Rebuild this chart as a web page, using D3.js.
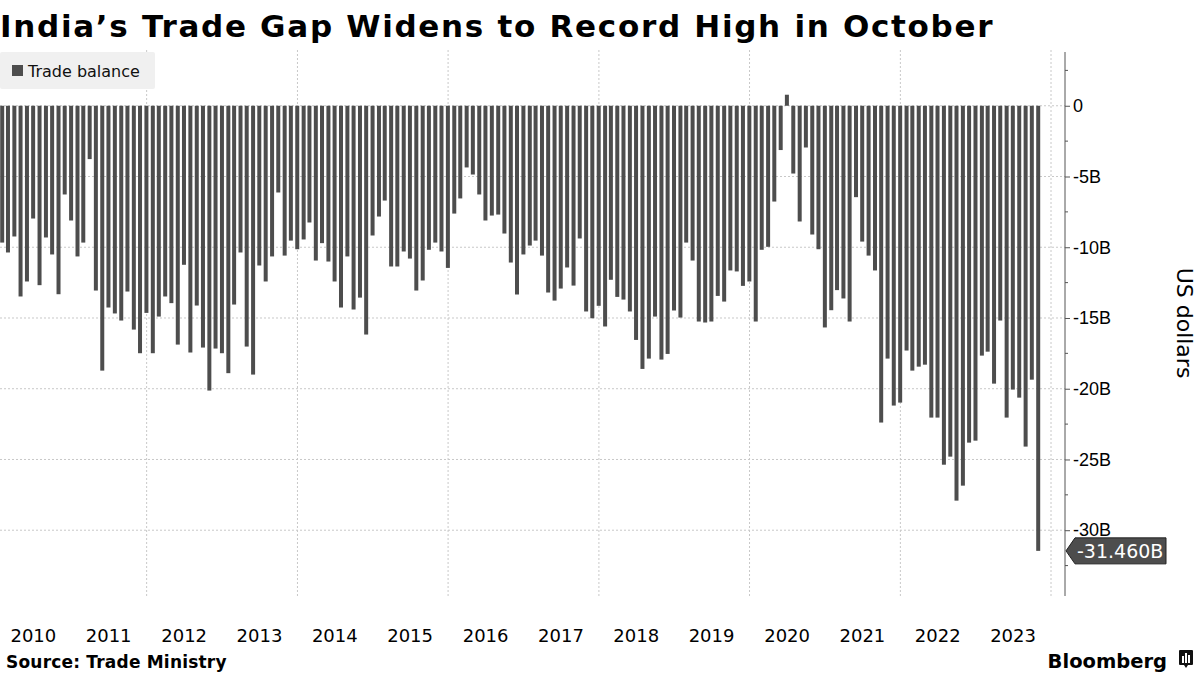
<!DOCTYPE html>
<meta charset="utf-8">
<style>
  body { margin: 0; background: #fff; }
  svg { display: block; font-family: "DejaVu Sans", sans-serif; }
  .grid line { stroke: #c8c8c8; stroke-dasharray: 2,2; }
  .yaxis path, .yaxis line { stroke: #555; }
  .yaxis text { font-size: 18px; fill: #000; }
</style>
<body>
<script src="https://cdn.jsdelivr.net/npm/d3@7"></script>
<script>

// monthly trade balance, billions of US dollars, Jan 2010 - Oct 2023
var months = d3.timeMonth.range(new Date(2010, 0, 1), new Date(2023, 10, 1));

var balance = [
  -9.67, -10.37, -9.24, -13.48, -12.42, -7.97, -12.68, -9.31, -10.51, -13.32, -6.27, -8.11,
  -10.65, -9.67, -3.77, -13.06, -18.72, -14.26, -14.68, -15.18, -13.13, -15.82, -17.49, -14.64,
  -17.49, -14.9, -13.48, -13.95, -16.88, -11.24, -17.44, -14.12, -17.09, -20.13, -17.16, -17.49,
  -18.9, -14.05, -10.37, -17.02, -19.0, -11.29, -12.42, -10.65, -6.13, -10.59, -9.53, -10.14,
  -9.45, -8.25, -10.94, -9.71, -11.01, -12.42, -14.26, -10.65, -14.4, -13.56, -16.17, -9.17,
  -7.83, -6.7, -11.36, -11.36, -10.3, -10.8, -13.06, -12.35, -10.18, -9.67, -10.3, -11.46,
  -7.62, -6.55, -4.36, -4.86, -6.27, -8.11, -7.76, -7.69, -9.03, -11.08, -13.34, -10.51,
  -9.88, -9.53, -10.59, -13.2, -13.77, -12.92, -11.43, -12.71, -9.38, -14.54, -15.02, -14.14,
  -15.6, -12.3, -13.51, -13.7, -14.54, -16.55, -18.6, -17.87, -14.9, -17.94, -17.54, -14.47,
  -14.97, -9.67, -10.94, -15.25, -15.32, -15.25, -13.44, -13.84, -11.64, -11.71, -12.73, -12.42,
  -15.25, -10.18, -9.97, -6.77, -3.13, 0.78, -4.79, -8.18, -2.95, -9.1, -10.14, -15.67,
  -14.45, -13.03, -13.62, -15.25, -6.46, -9.6, -10.59, -11.64, -22.39, -17.87, -21.19, -20.98,
  -17.3, -18.72, -18.44, -18.3, -22.04, -22.04, -25.37, -24.8, -27.91, -26.85, -23.81, -23.67,
  -17.66, -17.38, -19.64, -15.18, -22.04, -20.06, -20.63, -24.09, -19.36, -31.46
];

var years = d3.range(2010, 2024);
var yTicks = [0, -5, -10, -15, -20, -25, -30];
var yMinor = [2.5, -2.5, -7.5, -12.5, -17.5, -22.5, -27.5, -32.5];

var data = months.map(function(m, i) {
  return { date: d3.timeDay.offset(d3.timeMonth.offset(m, 1), -1), value: balance[i] };
});

var W = 1200, H = 675;
var plotTop = 52, plotBottom = 596, axisX = 1065;

var svg = d3.select("body").append("svg")
    .attr("width", W)
    .attr("height", H);

var x = d3.scaleTime()
    .domain([new Date(2010, 0, 1), new Date(2024, 0, 1)])
    .range([-4, 1051]);

var y = d3.scaleLinear()
    .domain([-34.65, 3.8])
    .range([plotBottom, plotTop]);

// title
svg.append("text")
    .attr("x", 0)
    .attr("y", 37)
    .style("font-weight", "bold")
    .style("font-size", "31px")
    .style("letter-spacing", "1.7px")
    .text("India\u2019s Trade Gap Widens to Record High in October");

// gridlines
var grid = svg.append("g").attr("class", "grid");

grid.selectAll("line.h")
    .data(yTicks)
    .enter().append("line")
    .attr("class", "h")
    .attr("x1", 0)
    .attr("x2", axisX)
    .attr("y1", function(d) { return y(d); })
    .attr("y2", function(d) { return y(d); });

grid.selectAll("line.v")
    .data(x.ticks(d3.timeYear.every(2)).filter(function(d) { return x(d) > 0; }))
    .enter().append("line")
    .attr("class", "v")
    .attr("x1", function(d) { return x(d); })
    .attr("x2", function(d) { return x(d); })
    .attr("y1", plotTop - 2)
    .attr("y2", plotBottom);

// legend
var legend = svg.append("g");
legend.append("rect")
    .attr("x", 0).attr("y", 52)
    .attr("width", 155).attr("height", 37)
    .attr("rx", 2)
    .attr("fill", "#f0f0f0");
legend.append("rect")
    .attr("x", 12).attr("y", 65)
    .attr("width", 11).attr("height", 11)
    .attr("fill", "#4d4d4d");
legend.append("text")
    .attr("x", 28).attr("y", 77)
    .style("font-size", "16px")
    .attr("fill", "#111")
    .text("Trade balance");

// bars
svg.selectAll("rect.bar")
    .data(data)
    .enter().append("rect")
    .attr("class", "bar")
    .attr("x", function(d) { return x(d.date) - 2; })
    .attr("width", 4)
    .attr("y", function(d) { return y(Math.max(0, d.value)); })
    .attr("height", function(d) { return Math.abs(y(d.value) - y(0)); })
    .attr("fill", "#4d4d4d");

// y axis on the right
var yaxis = d3.axisRight(y)
    .tickValues(yTicks)
    .tickSize(5)
    .tickPadding(3)
    .tickFormat(function(d) { return d == 0 ? "0" : d + "B"; });

var ya = svg.append("g")
    .attr("class", "yaxis")
    .attr("transform", "translate(" + axisX + ",0)")
    .call(yaxis);
ya.select(".domain").attr("d", "M0," + plotTop + "V" + plotBottom);

ya.selectAll("line.minor")
    .data(yMinor)
    .enter().append("line")
    .attr("class", "minor")
    .attr("x1", 0).attr("x2", 3)
    .attr("y1", function(d) { return y(d); })
    .attr("y2", function(d) { return y(d); });

svg.append("text")
    .attr("transform", "translate(1177,323) rotate(90)")
    .attr("text-anchor", "middle")
    .style("font-size", "22px")
    .text("US dollars");

// last value tag
var last = data[data.length - 1];
var ly = y(last.value);
svg.append("path")
    .attr("d", "M" + (axisX + 1) + "," + ly + "L" + (axisX + 10) + "," + (ly - 13) +
      "H1166V" + (ly + 13) + "H" + (axisX + 10) + "Z")
    .attr("fill", "#4d4d4d")
    .attr("stroke", "#222");
svg.append("text")
    .attr("x", axisX + 12)
    .attr("y", ly + 7)
    .attr("fill", "#fff")
    .style("font-size", "19px")
    .text(last.value.toFixed(3) + "B");

// year labels
svg.selectAll("text.year")
    .data(years)
    .enter().append("text")
    .attr("class", "year")
    .attr("x", function(d) { return x(new Date(d, 6, 1)); })
    .attr("y", 642)
    .attr("text-anchor", "middle")
    .style("font-size", "18px")
    .text(function(d) { return d; });

// footer
svg.append("text")
    .attr("x", 6)
    .attr("y", 668)
    .style("font-weight", "bold")
    .style("font-size", "17px")
    .style("letter-spacing", "0.2px")
    .text("Source: Trade Ministry");

svg.append("text")
    .attr("x", 1167)
    .attr("y", 668)
    .attr("text-anchor", "end")
    .style("font-weight", "bold")
    .style("font-size", "19.5px")
    .text("Bloomberg");

var logo = svg.append("g").attr("transform", "translate(1179,650)");
logo.append("path")
    .attr("d", "M1,0H13Q14,0 14,1V14Q14,15 13,15H9L7,18L5,15H1Q0,15 0,14V1Q0,0 1,0Z")
    .attr("fill", "#111");
logo.selectAll("rect")
    .data([[3, 6, 7], [6, 3, 10], [9, 5, 8]])
    .enter().append("rect")
    .attr("x", function(d) { return d[0]; })
    .attr("y", function(d) { return d[1]; })
    .attr("width", 2)
    .attr("height", function(d) { return d[2]; })
    .attr("fill", "#fff");

</script>
</body>
